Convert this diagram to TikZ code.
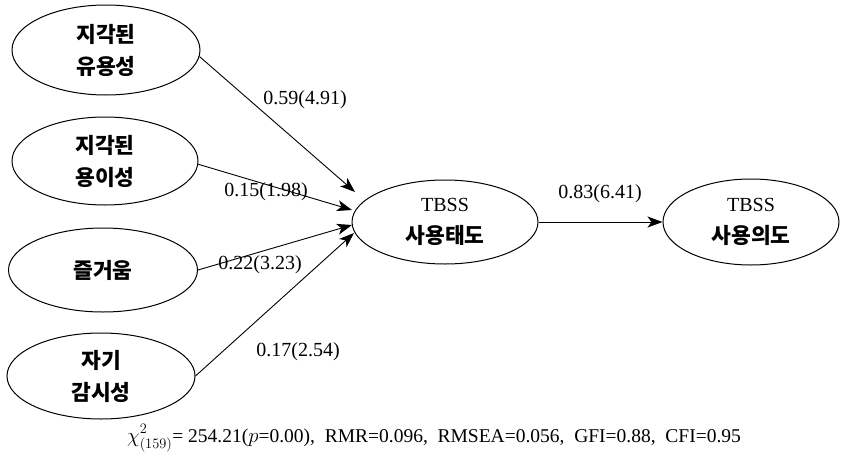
\documentclass[tikz,border=0pt]{standalone}
\usepackage{fontspec}
\setmainfont{Liberation Serif}
\newfontfamily\kr{Noto Sans CJK KR}
\usetikzlibrary{shapes.geometric,arrows.meta}

\tikzset{
  latent/.style={draw, ellipse, line width=1pt, inner sep=0pt, align=center,
    font=\kr\bfseries\fontsize{21.5}{32}\selectfont},
  path/.style={line width=0.9pt, -{Stealth[length=15pt,width=11pt,inset=4pt]}},
  coef/.style={font=\fontsize{20}{24}\selectfont, inner sep=0pt}
}

\begin{document}
\begin{tikzpicture}[x=1pt, y=-1pt]
  \useasboundingbox (0,0) rectangle (846,458);

  % exogenous constructs
  \node[latent, minimum width=188pt, minimum height=90pt] (u1) at (106,50) {지각된\\유용성};
  \node[latent, minimum width=186pt, minimum height=88pt] (u2) at (105,161) {지각된\\용이성};
  \node[latent, minimum width=189pt, minimum height=84pt] (u3) at (103,270) {즐거움};
  \node[latent, minimum width=188pt, minimum height=86pt] (u4) at (101,376) {자기\\감시성};

  % endogenous constructs
  \node[latent, minimum width=186pt, minimum height=84pt] (att) at (445,222)
    {{\fontspec{Liberation Serif}\mdseries\fontsize{20}{24}\selectfont TBSS}\\사용태도};
  \node[latent, minimum width=176pt, minimum height=86pt] (int) at (751,222)
    {{\fontspec{Liberation Serif}\mdseries\fontsize{20}{24}\selectfont TBSS}\\사용의도};

  % arrow tips converging on the attitude construct
  \coordinate (t1) at (355,192);
  \coordinate (t2) at (352,210);
  \coordinate (t3) at (352,225);
  \coordinate (t4) at (354,233);

  \draw[path] (u1.-4) -- (t1);
  \draw[path] (u2.-2) -- (t2);
  \draw[path] (u3.east) -- (t3);
  \draw[path] (u4.east) -- (t4);
  \draw[path] (att.east) -- (int.west);

  % path coefficients (t-values)
  \node[coef] (c1) at (305,100) {0.59(4.91)};
  \node[coef] (c2) at (266,192) {0.15(1.98)};
  \node[coef] (c3) at (260,265) {0.22(3.23)};
  \node[coef] (c4) at (298,352) {0.17(2.54)};
  \node[coef] (c5) at (600,194) {0.83(6.41)};

  % fit indices
  \node[font=\fontsize{19.5}{22}\selectfont, inner sep=0pt] (fit) at (434,438)
    {$\chi^{\raisebox{2pt}{$\scriptstyle 2$}}_{\raisebox{-1pt}{$\scriptstyle (159)$}}$= 254.21($p$=0.00),\ \ RMR=0.096,\ \ RMSEA=0.056,\ \ GFI=0.88,\ \ CFI=0.95};
\end{tikzpicture}
\end{document}
